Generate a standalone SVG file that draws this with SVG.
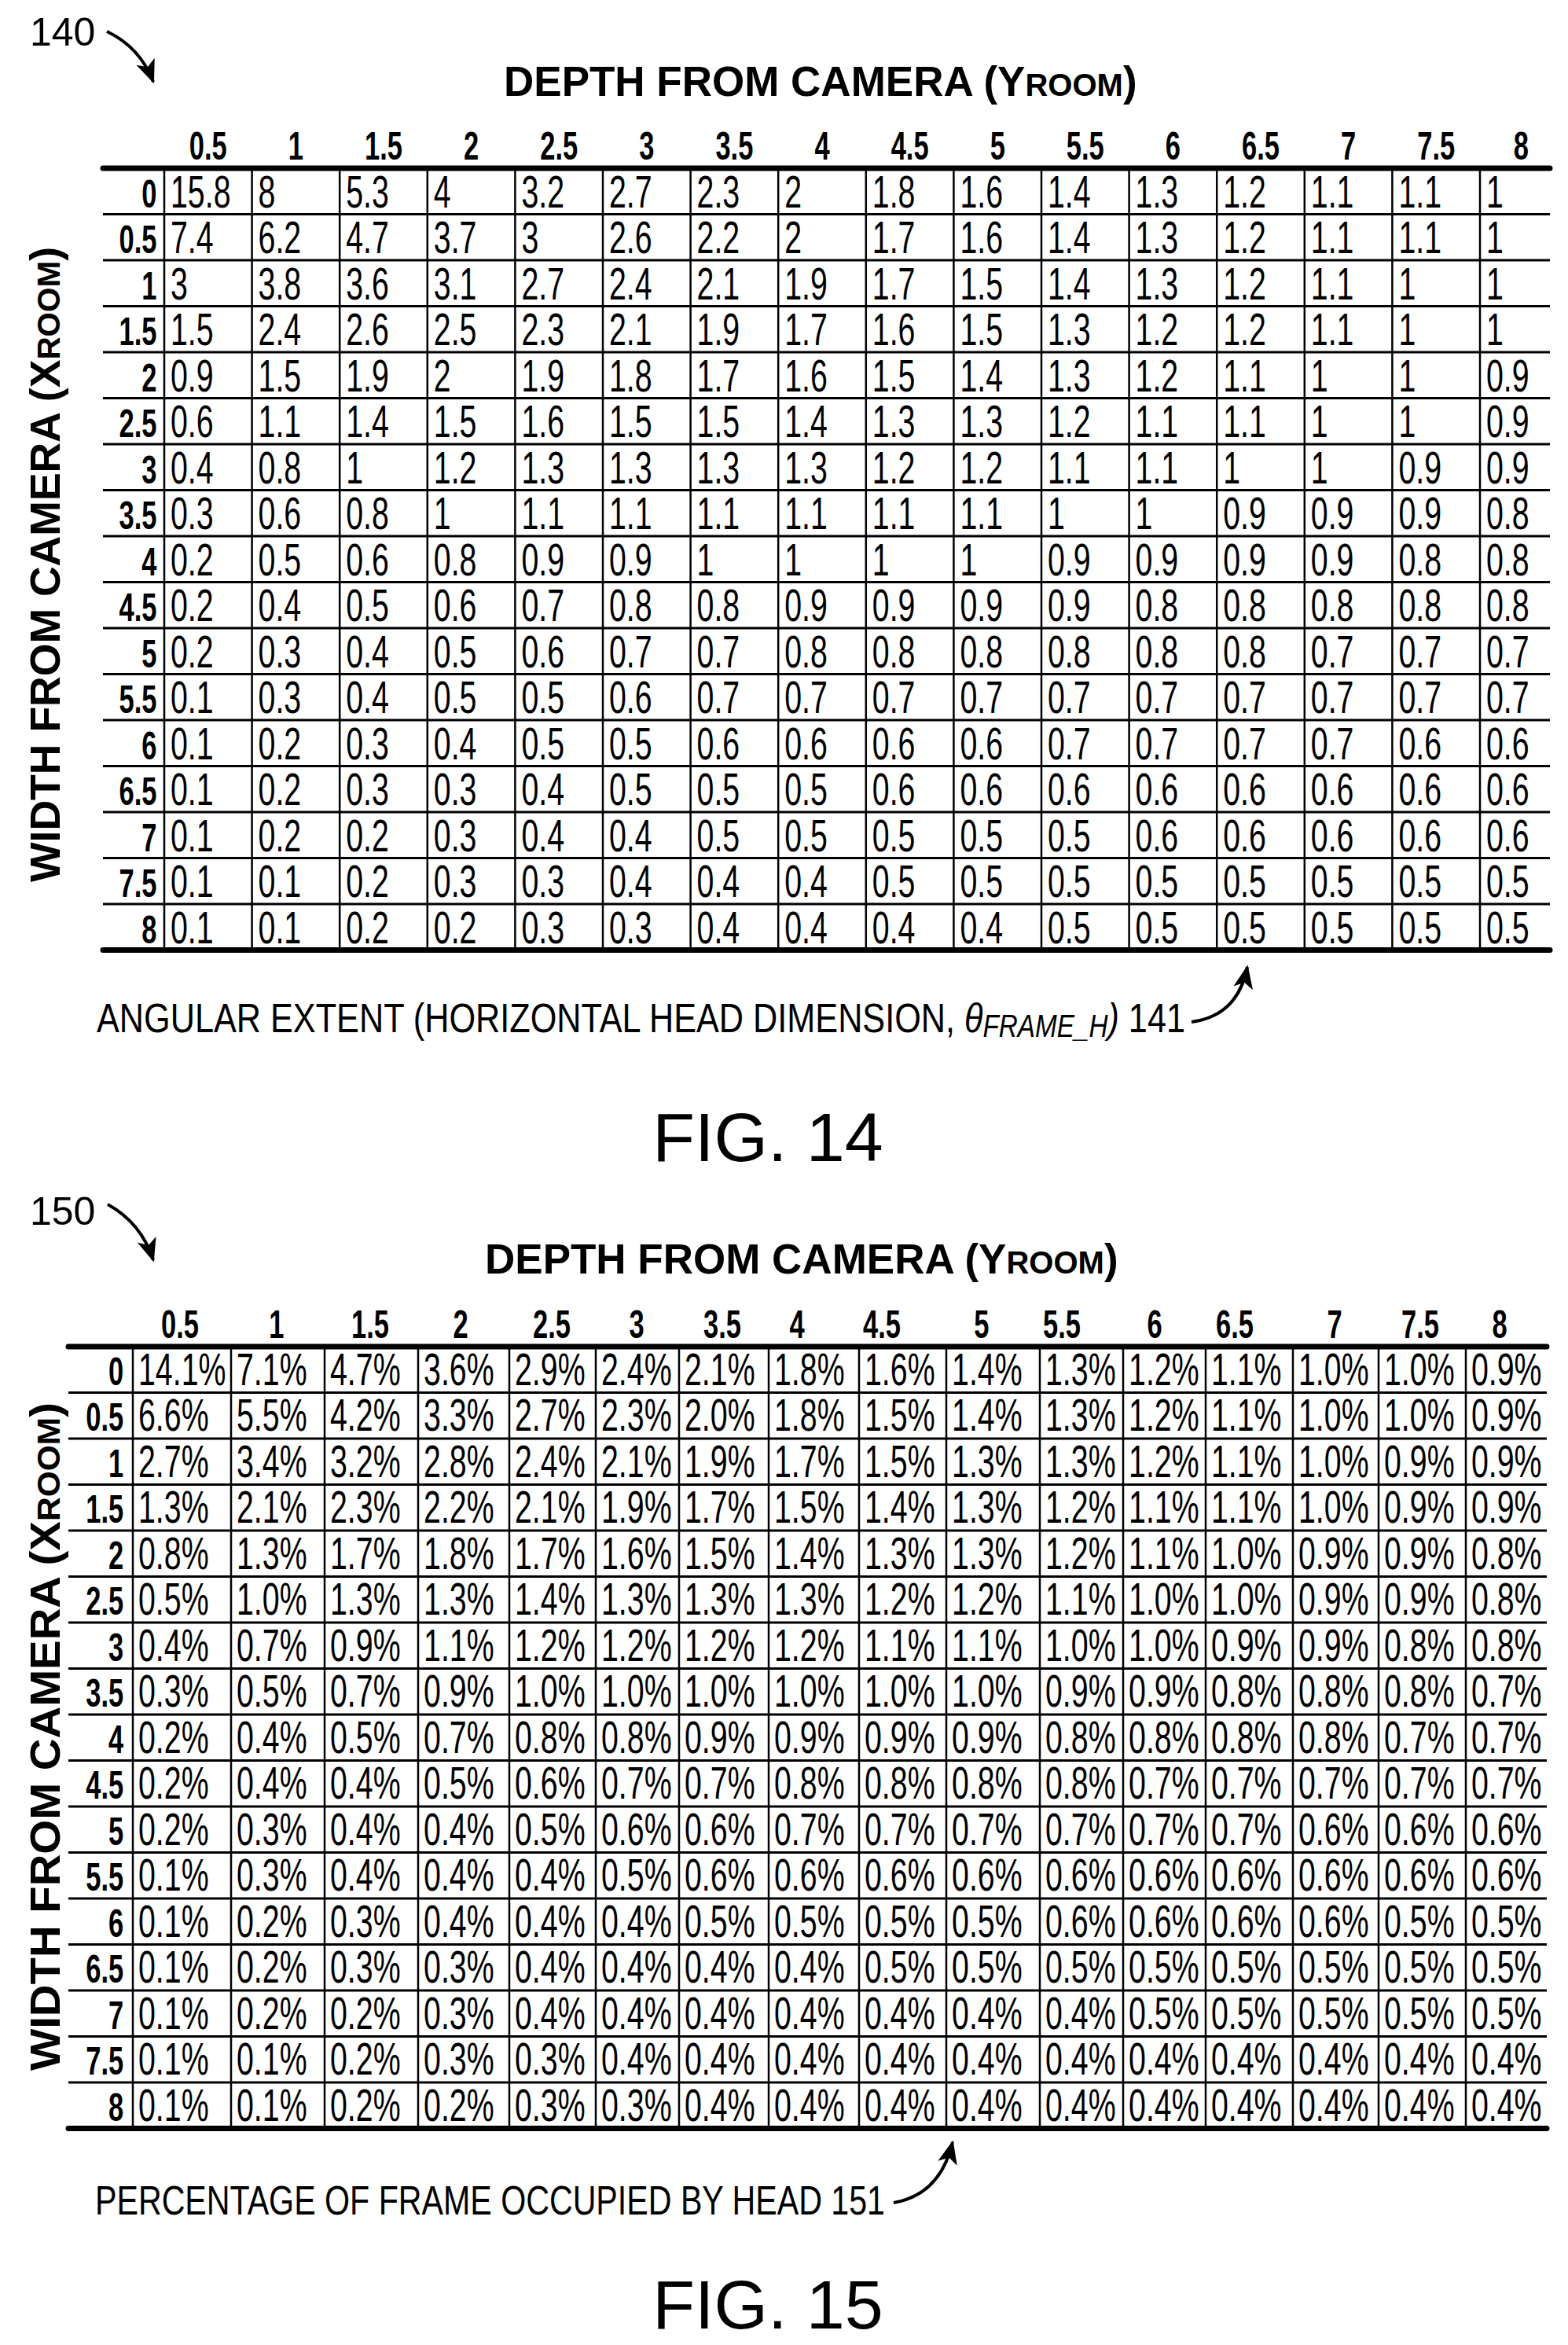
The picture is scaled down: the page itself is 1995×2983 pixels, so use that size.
<svg xmlns="http://www.w3.org/2000/svg" width="1995" height="2983" viewBox="0 0 1995 2983">
<style>
text{font-family:"Liberation Sans",Arial,sans-serif;fill:#000}
.t{font-size:53px;font-weight:bold}
.ts{font-size:40px}
.hd{font-size:50px;font-weight:bold;text-anchor:middle}
.rl{font-size:50px;font-weight:bold;text-anchor:end}
.c{font-size:57px}
.thin{stroke:#000;stroke-width:3;fill:none}
.vl{stroke:#000;stroke-width:2.5;fill:none}
.thick{stroke:#000;stroke-width:7;fill:none;stroke-linecap:round}
.cap{font-size:52px}
.fig{font-size:88px;text-anchor:middle}
.ref{font-size:50px}
.arr{stroke:#000;stroke-width:4;fill:none}
</style>
<defs>
<marker id="ah" markerUnits="userSpaceOnUse" markerWidth="30" markerHeight="30" refX="22" refY="10" orient="auto" viewBox="0 0 24 20">
<path d="M0,0 L24,10 L0,20 L6,10 Z" fill="#000"/>
</marker>
</defs>

<g id="fig14">
<text class="ref" x="38" y="58">140</text>
<text class="t" x="641" y="122">DEPTH FROM CAMERA (Y<tspan class="ts">ROOM</tspan>)</text>
<text class="t" transform="translate(76,718) rotate(-90)" text-anchor="middle" textLength="808" lengthAdjust="spacingAndGlyphs">WIDTH FROM CAMERA (X<tspan class="ts">ROOM</tspan>)</text>
<path class="thin" d="M131 272.5H1972M131 331H1972M131 389.5H1972M131 448H1972M131 506.5H1972M131 565H1972M131 623.5H1972M131 682H1972M131 740.5H1972M131 799H1972M131 857.5H1972M131 916H1972M131 974.5H1972M131 1033H1972M131 1091.5H1972M131 1150H1972"/>
<path class="vl" d="M209 214V1208.5M320.6 214V1208.5M432.2 214V1208.5M543.8 214V1208.5M655.4 214V1208.5M767 214V1208.5M878.6 214V1208.5M990.2 214V1208.5M1101.8 214V1208.5M1213.4 214V1208.5M1325 214V1208.5M1436.6 214V1208.5M1548.2 214V1208.5M1659.8 214V1208.5M1771.4 214V1208.5M1883 214V1208.5"/>
<path class="thick" d="M131 214H1972M131 1208.5H1972"/>
<g transform="scale(0.69,1)">
<text class="hd" y="203"><tspan x="383.8">0.5</tspan><tspan x="545.5">1</tspan><tspan x="707.3">1.5</tspan><tspan x="869">2</tspan><tspan x="1030.8">2.5</tspan><tspan x="1192.5">3</tspan><tspan x="1354.2">3.5</tspan><tspan x="1516">4</tspan><tspan x="1677.7">4.5</tspan><tspan x="1839.5">5</tspan><tspan x="2001.2">5.5</tspan><tspan x="2162.9">6</tspan><tspan x="2324.7">6.5</tspan><tspan x="2486.4">7</tspan><tspan x="2648.2">7.5</tspan><tspan x="2805">8</tspan></text>
<text class="rl" x="289" y="264">0</text>
<text class="rl" x="289" y="322.5">0.5</text>
<text class="rl" x="289" y="381">1</text>
<text class="rl" x="289" y="439.5">1.5</text>
<text class="rl" x="289" y="498">2</text>
<text class="rl" x="289" y="556.5">2.5</text>
<text class="rl" x="289" y="615">3</text>
<text class="rl" x="289" y="673.5">3.5</text>
<text class="rl" x="289" y="732">4</text>
<text class="rl" x="289" y="790.5">4.5</text>
<text class="rl" x="289" y="849">5</text>
<text class="rl" x="289" y="907.5">5.5</text>
<text class="rl" x="289" y="966">6</text>
<text class="rl" x="289" y="1024.5">6.5</text>
<text class="rl" x="289" y="1083">7</text>
<text class="rl" x="289" y="1141.5">7.5</text>
<text class="rl" x="289" y="1200">8</text>
<text class="c" y="264"><tspan x="314.5">15.8</tspan><tspan x="476.2">8</tspan><tspan x="638">5.3</tspan><tspan x="799.7">4</tspan><tspan x="961.5">3.2</tspan><tspan x="1123.2">2.7</tspan><tspan x="1284.9">2.3</tspan><tspan x="1446.7">2</tspan><tspan x="1608.4">1.8</tspan><tspan x="1770.2">1.6</tspan><tspan x="1931.9">1.4</tspan><tspan x="2093.6">1.3</tspan><tspan x="2255.4">1.2</tspan><tspan x="2417.1">1.1</tspan><tspan x="2578.9">1.1</tspan><tspan x="2740.6">1</tspan></text>
<text class="c" y="322.5"><tspan x="314.5">7.4</tspan><tspan x="476.2">6.2</tspan><tspan x="638">4.7</tspan><tspan x="799.7">3.7</tspan><tspan x="961.5">3</tspan><tspan x="1123.2">2.6</tspan><tspan x="1284.9">2.2</tspan><tspan x="1446.7">2</tspan><tspan x="1608.4">1.7</tspan><tspan x="1770.2">1.6</tspan><tspan x="1931.9">1.4</tspan><tspan x="2093.6">1.3</tspan><tspan x="2255.4">1.2</tspan><tspan x="2417.1">1.1</tspan><tspan x="2578.9">1.1</tspan><tspan x="2740.6">1</tspan></text>
<text class="c" y="381"><tspan x="314.5">3</tspan><tspan x="476.2">3.8</tspan><tspan x="638">3.6</tspan><tspan x="799.7">3.1</tspan><tspan x="961.5">2.7</tspan><tspan x="1123.2">2.4</tspan><tspan x="1284.9">2.1</tspan><tspan x="1446.7">1.9</tspan><tspan x="1608.4">1.7</tspan><tspan x="1770.2">1.5</tspan><tspan x="1931.9">1.4</tspan><tspan x="2093.6">1.3</tspan><tspan x="2255.4">1.2</tspan><tspan x="2417.1">1.1</tspan><tspan x="2578.9">1</tspan><tspan x="2740.6">1</tspan></text>
<text class="c" y="439.5"><tspan x="314.5">1.5</tspan><tspan x="476.2">2.4</tspan><tspan x="638">2.6</tspan><tspan x="799.7">2.5</tspan><tspan x="961.5">2.3</tspan><tspan x="1123.2">2.1</tspan><tspan x="1284.9">1.9</tspan><tspan x="1446.7">1.7</tspan><tspan x="1608.4">1.6</tspan><tspan x="1770.2">1.5</tspan><tspan x="1931.9">1.3</tspan><tspan x="2093.6">1.2</tspan><tspan x="2255.4">1.2</tspan><tspan x="2417.1">1.1</tspan><tspan x="2578.9">1</tspan><tspan x="2740.6">1</tspan></text>
<text class="c" y="498"><tspan x="314.5">0.9</tspan><tspan x="476.2">1.5</tspan><tspan x="638">1.9</tspan><tspan x="799.7">2</tspan><tspan x="961.5">1.9</tspan><tspan x="1123.2">1.8</tspan><tspan x="1284.9">1.7</tspan><tspan x="1446.7">1.6</tspan><tspan x="1608.4">1.5</tspan><tspan x="1770.2">1.4</tspan><tspan x="1931.9">1.3</tspan><tspan x="2093.6">1.2</tspan><tspan x="2255.4">1.1</tspan><tspan x="2417.1">1</tspan><tspan x="2578.9">1</tspan><tspan x="2740.6">0.9</tspan></text>
<text class="c" y="556.5"><tspan x="314.5">0.6</tspan><tspan x="476.2">1.1</tspan><tspan x="638">1.4</tspan><tspan x="799.7">1.5</tspan><tspan x="961.5">1.6</tspan><tspan x="1123.2">1.5</tspan><tspan x="1284.9">1.5</tspan><tspan x="1446.7">1.4</tspan><tspan x="1608.4">1.3</tspan><tspan x="1770.2">1.3</tspan><tspan x="1931.9">1.2</tspan><tspan x="2093.6">1.1</tspan><tspan x="2255.4">1.1</tspan><tspan x="2417.1">1</tspan><tspan x="2578.9">1</tspan><tspan x="2740.6">0.9</tspan></text>
<text class="c" y="615"><tspan x="314.5">0.4</tspan><tspan x="476.2">0.8</tspan><tspan x="638">1</tspan><tspan x="799.7">1.2</tspan><tspan x="961.5">1.3</tspan><tspan x="1123.2">1.3</tspan><tspan x="1284.9">1.3</tspan><tspan x="1446.7">1.3</tspan><tspan x="1608.4">1.2</tspan><tspan x="1770.2">1.2</tspan><tspan x="1931.9">1.1</tspan><tspan x="2093.6">1.1</tspan><tspan x="2255.4">1</tspan><tspan x="2417.1">1</tspan><tspan x="2578.9">0.9</tspan><tspan x="2740.6">0.9</tspan></text>
<text class="c" y="673.5"><tspan x="314.5">0.3</tspan><tspan x="476.2">0.6</tspan><tspan x="638">0.8</tspan><tspan x="799.7">1</tspan><tspan x="961.5">1.1</tspan><tspan x="1123.2">1.1</tspan><tspan x="1284.9">1.1</tspan><tspan x="1446.7">1.1</tspan><tspan x="1608.4">1.1</tspan><tspan x="1770.2">1.1</tspan><tspan x="1931.9">1</tspan><tspan x="2093.6">1</tspan><tspan x="2255.4">0.9</tspan><tspan x="2417.1">0.9</tspan><tspan x="2578.9">0.9</tspan><tspan x="2740.6">0.8</tspan></text>
<text class="c" y="732"><tspan x="314.5">0.2</tspan><tspan x="476.2">0.5</tspan><tspan x="638">0.6</tspan><tspan x="799.7">0.8</tspan><tspan x="961.5">0.9</tspan><tspan x="1123.2">0.9</tspan><tspan x="1284.9">1</tspan><tspan x="1446.7">1</tspan><tspan x="1608.4">1</tspan><tspan x="1770.2">1</tspan><tspan x="1931.9">0.9</tspan><tspan x="2093.6">0.9</tspan><tspan x="2255.4">0.9</tspan><tspan x="2417.1">0.9</tspan><tspan x="2578.9">0.8</tspan><tspan x="2740.6">0.8</tspan></text>
<text class="c" y="790.5"><tspan x="314.5">0.2</tspan><tspan x="476.2">0.4</tspan><tspan x="638">0.5</tspan><tspan x="799.7">0.6</tspan><tspan x="961.5">0.7</tspan><tspan x="1123.2">0.8</tspan><tspan x="1284.9">0.8</tspan><tspan x="1446.7">0.9</tspan><tspan x="1608.4">0.9</tspan><tspan x="1770.2">0.9</tspan><tspan x="1931.9">0.9</tspan><tspan x="2093.6">0.8</tspan><tspan x="2255.4">0.8</tspan><tspan x="2417.1">0.8</tspan><tspan x="2578.9">0.8</tspan><tspan x="2740.6">0.8</tspan></text>
<text class="c" y="849"><tspan x="314.5">0.2</tspan><tspan x="476.2">0.3</tspan><tspan x="638">0.4</tspan><tspan x="799.7">0.5</tspan><tspan x="961.5">0.6</tspan><tspan x="1123.2">0.7</tspan><tspan x="1284.9">0.7</tspan><tspan x="1446.7">0.8</tspan><tspan x="1608.4">0.8</tspan><tspan x="1770.2">0.8</tspan><tspan x="1931.9">0.8</tspan><tspan x="2093.6">0.8</tspan><tspan x="2255.4">0.8</tspan><tspan x="2417.1">0.7</tspan><tspan x="2578.9">0.7</tspan><tspan x="2740.6">0.7</tspan></text>
<text class="c" y="907.5"><tspan x="314.5">0.1</tspan><tspan x="476.2">0.3</tspan><tspan x="638">0.4</tspan><tspan x="799.7">0.5</tspan><tspan x="961.5">0.5</tspan><tspan x="1123.2">0.6</tspan><tspan x="1284.9">0.7</tspan><tspan x="1446.7">0.7</tspan><tspan x="1608.4">0.7</tspan><tspan x="1770.2">0.7</tspan><tspan x="1931.9">0.7</tspan><tspan x="2093.6">0.7</tspan><tspan x="2255.4">0.7</tspan><tspan x="2417.1">0.7</tspan><tspan x="2578.9">0.7</tspan><tspan x="2740.6">0.7</tspan></text>
<text class="c" y="966"><tspan x="314.5">0.1</tspan><tspan x="476.2">0.2</tspan><tspan x="638">0.3</tspan><tspan x="799.7">0.4</tspan><tspan x="961.5">0.5</tspan><tspan x="1123.2">0.5</tspan><tspan x="1284.9">0.6</tspan><tspan x="1446.7">0.6</tspan><tspan x="1608.4">0.6</tspan><tspan x="1770.2">0.6</tspan><tspan x="1931.9">0.7</tspan><tspan x="2093.6">0.7</tspan><tspan x="2255.4">0.7</tspan><tspan x="2417.1">0.7</tspan><tspan x="2578.9">0.6</tspan><tspan x="2740.6">0.6</tspan></text>
<text class="c" y="1024.5"><tspan x="314.5">0.1</tspan><tspan x="476.2">0.2</tspan><tspan x="638">0.3</tspan><tspan x="799.7">0.3</tspan><tspan x="961.5">0.4</tspan><tspan x="1123.2">0.5</tspan><tspan x="1284.9">0.5</tspan><tspan x="1446.7">0.5</tspan><tspan x="1608.4">0.6</tspan><tspan x="1770.2">0.6</tspan><tspan x="1931.9">0.6</tspan><tspan x="2093.6">0.6</tspan><tspan x="2255.4">0.6</tspan><tspan x="2417.1">0.6</tspan><tspan x="2578.9">0.6</tspan><tspan x="2740.6">0.6</tspan></text>
<text class="c" y="1083"><tspan x="314.5">0.1</tspan><tspan x="476.2">0.2</tspan><tspan x="638">0.2</tspan><tspan x="799.7">0.3</tspan><tspan x="961.5">0.4</tspan><tspan x="1123.2">0.4</tspan><tspan x="1284.9">0.5</tspan><tspan x="1446.7">0.5</tspan><tspan x="1608.4">0.5</tspan><tspan x="1770.2">0.5</tspan><tspan x="1931.9">0.5</tspan><tspan x="2093.6">0.6</tspan><tspan x="2255.4">0.6</tspan><tspan x="2417.1">0.6</tspan><tspan x="2578.9">0.6</tspan><tspan x="2740.6">0.6</tspan></text>
<text class="c" y="1141.5"><tspan x="314.5">0.1</tspan><tspan x="476.2">0.1</tspan><tspan x="638">0.2</tspan><tspan x="799.7">0.3</tspan><tspan x="961.5">0.3</tspan><tspan x="1123.2">0.4</tspan><tspan x="1284.9">0.4</tspan><tspan x="1446.7">0.4</tspan><tspan x="1608.4">0.5</tspan><tspan x="1770.2">0.5</tspan><tspan x="1931.9">0.5</tspan><tspan x="2093.6">0.5</tspan><tspan x="2255.4">0.5</tspan><tspan x="2417.1">0.5</tspan><tspan x="2578.9">0.5</tspan><tspan x="2740.6">0.5</tspan></text>
<text class="c" y="1200"><tspan x="314.5">0.1</tspan><tspan x="476.2">0.1</tspan><tspan x="638">0.2</tspan><tspan x="799.7">0.2</tspan><tspan x="961.5">0.3</tspan><tspan x="1123.2">0.3</tspan><tspan x="1284.9">0.4</tspan><tspan x="1446.7">0.4</tspan><tspan x="1608.4">0.4</tspan><tspan x="1770.2">0.4</tspan><tspan x="1931.9">0.5</tspan><tspan x="2093.6">0.5</tspan><tspan x="2255.4">0.5</tspan><tspan x="2417.1">0.5</tspan><tspan x="2578.9">0.5</tspan><tspan x="2740.6">0.5</tspan></text>
</g>
<text class="cap" x="123" y="1313" textLength="1385" lengthAdjust="spacingAndGlyphs">ANGULAR EXTENT (HORIZONTAL HEAD DIMENSION, <tspan font-style="italic">θ</tspan><tspan font-style="italic" font-size="40" dy="6">FRAME_H</tspan><tspan font-style="italic" dy="-6">)</tspan> 141</text>
<text class="fig" x="977" y="1477">FIG. 14</text>
</g>

<g id="fig15">
<text class="ref" x="38" y="1558">150</text>
<text class="t" x="617" y="1620">DEPTH FROM CAMERA (Y<tspan class="ts">ROOM</tspan>)</text>
<text class="t" transform="translate(76,2209) rotate(-90)" text-anchor="middle" textLength="850" lengthAdjust="spacingAndGlyphs">WIDTH FROM CAMERA (X<tspan class="ts">ROOM</tspan>)</text>
<path class="thin" d="M87 1771.5H1968M87 1830H1968M87 1888.5H1968M87 1947H1968M87 2005.5H1968M87 2064H1968M87 2122.5H1968M87 2181H1968M87 2239.5H1968M87 2298H1968M87 2356.5H1968M87 2415H1968M87 2473.5H1968M87 2532H1968M87 2590.5H1968M87 2649H1968"/>
<path class="vl" d="M169 1713V2707.5M294 1713V2707.5M413 1713V2707.5M532 1713V2707.5M648 1713V2707.5M758 1713V2707.5M864 1713V2707.5M978 1713V2707.5M1093 1713V2707.5M1204 1713V2707.5M1323 1713V2707.5M1429 1713V2707.5M1534 1713V2707.5M1645 1713V2707.5M1754 1713V2707.5M1865 1713V2707.5"/>
<path class="thick" d="M87 1713H1968M87 2707.5H1968"/>
<g transform="scale(0.69,1)">
<text class="hd" y="1702"><tspan x="331.9">0.5</tspan><tspan x="510.1">1</tspan><tspan x="682.6">1.5</tspan><tspan x="849.3">2</tspan><tspan x="1017.4">2.5</tspan><tspan x="1173.9">3</tspan><tspan x="1331.9">3.5</tspan><tspan x="1469.6">4</tspan><tspan x="1626.1">4.5</tspan><tspan x="1810.1">5</tspan><tspan x="1958">5.5</tspan><tspan x="2129">6</tspan><tspan x="2276.8">6.5</tspan><tspan x="2460.9">7</tspan><tspan x="2618.8">7.5</tspan><tspan x="2765.2">8</tspan></text>
<text class="rl" x="228" y="1762">0</text>
<text class="rl" x="228" y="1820.5">0.5</text>
<text class="rl" x="228" y="1879">1</text>
<text class="rl" x="228" y="1937.5">1.5</text>
<text class="rl" x="228" y="1996">2</text>
<text class="rl" x="228" y="2054.5">2.5</text>
<text class="rl" x="228" y="2113">3</text>
<text class="rl" x="228" y="2171.5">3.5</text>
<text class="rl" x="228" y="2230">4</text>
<text class="rl" x="228" y="2288.5">4.5</text>
<text class="rl" x="228" y="2347">5</text>
<text class="rl" x="228" y="2405.5">5.5</text>
<text class="rl" x="228" y="2464">6</text>
<text class="rl" x="228" y="2522.5">6.5</text>
<text class="rl" x="228" y="2581">7</text>
<text class="rl" x="228" y="2639.5">7.5</text>
<text class="rl" x="228" y="2698">8</text>
<text class="c" y="1762"><tspan x="255.1">14.1%</tspan><tspan x="436.2">7.1%</tspan><tspan x="608.7">4.7%</tspan><tspan x="781.2">3.6%</tspan><tspan x="949.3">2.9%</tspan><tspan x="1108.7">2.4%</tspan><tspan x="1262.3">2.1%</tspan><tspan x="1427.5">1.8%</tspan><tspan x="1594.2">1.6%</tspan><tspan x="1755.1">1.4%</tspan><tspan x="1927.5">1.3%</tspan><tspan x="2081.2">1.2%</tspan><tspan x="2233.3">1.1%</tspan><tspan x="2394.2">1.0%</tspan><tspan x="2552.2">1.0%</tspan><tspan x="2713">0.9%</tspan></text>
<text class="c" y="1820.5"><tspan x="255.1">6.6%</tspan><tspan x="436.2">5.5%</tspan><tspan x="608.7">4.2%</tspan><tspan x="781.2">3.3%</tspan><tspan x="949.3">2.7%</tspan><tspan x="1108.7">2.3%</tspan><tspan x="1262.3">2.0%</tspan><tspan x="1427.5">1.8%</tspan><tspan x="1594.2">1.5%</tspan><tspan x="1755.1">1.4%</tspan><tspan x="1927.5">1.3%</tspan><tspan x="2081.2">1.2%</tspan><tspan x="2233.3">1.1%</tspan><tspan x="2394.2">1.0%</tspan><tspan x="2552.2">1.0%</tspan><tspan x="2713">0.9%</tspan></text>
<text class="c" y="1879"><tspan x="255.1">2.7%</tspan><tspan x="436.2">3.4%</tspan><tspan x="608.7">3.2%</tspan><tspan x="781.2">2.8%</tspan><tspan x="949.3">2.4%</tspan><tspan x="1108.7">2.1%</tspan><tspan x="1262.3">1.9%</tspan><tspan x="1427.5">1.7%</tspan><tspan x="1594.2">1.5%</tspan><tspan x="1755.1">1.3%</tspan><tspan x="1927.5">1.3%</tspan><tspan x="2081.2">1.2%</tspan><tspan x="2233.3">1.1%</tspan><tspan x="2394.2">1.0%</tspan><tspan x="2552.2">0.9%</tspan><tspan x="2713">0.9%</tspan></text>
<text class="c" y="1937.5"><tspan x="255.1">1.3%</tspan><tspan x="436.2">2.1%</tspan><tspan x="608.7">2.3%</tspan><tspan x="781.2">2.2%</tspan><tspan x="949.3">2.1%</tspan><tspan x="1108.7">1.9%</tspan><tspan x="1262.3">1.7%</tspan><tspan x="1427.5">1.5%</tspan><tspan x="1594.2">1.4%</tspan><tspan x="1755.1">1.3%</tspan><tspan x="1927.5">1.2%</tspan><tspan x="2081.2">1.1%</tspan><tspan x="2233.3">1.1%</tspan><tspan x="2394.2">1.0%</tspan><tspan x="2552.2">0.9%</tspan><tspan x="2713">0.9%</tspan></text>
<text class="c" y="1996"><tspan x="255.1">0.8%</tspan><tspan x="436.2">1.3%</tspan><tspan x="608.7">1.7%</tspan><tspan x="781.2">1.8%</tspan><tspan x="949.3">1.7%</tspan><tspan x="1108.7">1.6%</tspan><tspan x="1262.3">1.5%</tspan><tspan x="1427.5">1.4%</tspan><tspan x="1594.2">1.3%</tspan><tspan x="1755.1">1.3%</tspan><tspan x="1927.5">1.2%</tspan><tspan x="2081.2">1.1%</tspan><tspan x="2233.3">1.0%</tspan><tspan x="2394.2">0.9%</tspan><tspan x="2552.2">0.9%</tspan><tspan x="2713">0.8%</tspan></text>
<text class="c" y="2054.5"><tspan x="255.1">0.5%</tspan><tspan x="436.2">1.0%</tspan><tspan x="608.7">1.3%</tspan><tspan x="781.2">1.3%</tspan><tspan x="949.3">1.4%</tspan><tspan x="1108.7">1.3%</tspan><tspan x="1262.3">1.3%</tspan><tspan x="1427.5">1.3%</tspan><tspan x="1594.2">1.2%</tspan><tspan x="1755.1">1.2%</tspan><tspan x="1927.5">1.1%</tspan><tspan x="2081.2">1.0%</tspan><tspan x="2233.3">1.0%</tspan><tspan x="2394.2">0.9%</tspan><tspan x="2552.2">0.9%</tspan><tspan x="2713">0.8%</tspan></text>
<text class="c" y="2113"><tspan x="255.1">0.4%</tspan><tspan x="436.2">0.7%</tspan><tspan x="608.7">0.9%</tspan><tspan x="781.2">1.1%</tspan><tspan x="949.3">1.2%</tspan><tspan x="1108.7">1.2%</tspan><tspan x="1262.3">1.2%</tspan><tspan x="1427.5">1.2%</tspan><tspan x="1594.2">1.1%</tspan><tspan x="1755.1">1.1%</tspan><tspan x="1927.5">1.0%</tspan><tspan x="2081.2">1.0%</tspan><tspan x="2233.3">0.9%</tspan><tspan x="2394.2">0.9%</tspan><tspan x="2552.2">0.8%</tspan><tspan x="2713">0.8%</tspan></text>
<text class="c" y="2171.5"><tspan x="255.1">0.3%</tspan><tspan x="436.2">0.5%</tspan><tspan x="608.7">0.7%</tspan><tspan x="781.2">0.9%</tspan><tspan x="949.3">1.0%</tspan><tspan x="1108.7">1.0%</tspan><tspan x="1262.3">1.0%</tspan><tspan x="1427.5">1.0%</tspan><tspan x="1594.2">1.0%</tspan><tspan x="1755.1">1.0%</tspan><tspan x="1927.5">0.9%</tspan><tspan x="2081.2">0.9%</tspan><tspan x="2233.3">0.8%</tspan><tspan x="2394.2">0.8%</tspan><tspan x="2552.2">0.8%</tspan><tspan x="2713">0.7%</tspan></text>
<text class="c" y="2230"><tspan x="255.1">0.2%</tspan><tspan x="436.2">0.4%</tspan><tspan x="608.7">0.5%</tspan><tspan x="781.2">0.7%</tspan><tspan x="949.3">0.8%</tspan><tspan x="1108.7">0.8%</tspan><tspan x="1262.3">0.9%</tspan><tspan x="1427.5">0.9%</tspan><tspan x="1594.2">0.9%</tspan><tspan x="1755.1">0.9%</tspan><tspan x="1927.5">0.8%</tspan><tspan x="2081.2">0.8%</tspan><tspan x="2233.3">0.8%</tspan><tspan x="2394.2">0.8%</tspan><tspan x="2552.2">0.7%</tspan><tspan x="2713">0.7%</tspan></text>
<text class="c" y="2288.5"><tspan x="255.1">0.2%</tspan><tspan x="436.2">0.4%</tspan><tspan x="608.7">0.4%</tspan><tspan x="781.2">0.5%</tspan><tspan x="949.3">0.6%</tspan><tspan x="1108.7">0.7%</tspan><tspan x="1262.3">0.7%</tspan><tspan x="1427.5">0.8%</tspan><tspan x="1594.2">0.8%</tspan><tspan x="1755.1">0.8%</tspan><tspan x="1927.5">0.8%</tspan><tspan x="2081.2">0.7%</tspan><tspan x="2233.3">0.7%</tspan><tspan x="2394.2">0.7%</tspan><tspan x="2552.2">0.7%</tspan><tspan x="2713">0.7%</tspan></text>
<text class="c" y="2347"><tspan x="255.1">0.2%</tspan><tspan x="436.2">0.3%</tspan><tspan x="608.7">0.4%</tspan><tspan x="781.2">0.4%</tspan><tspan x="949.3">0.5%</tspan><tspan x="1108.7">0.6%</tspan><tspan x="1262.3">0.6%</tspan><tspan x="1427.5">0.7%</tspan><tspan x="1594.2">0.7%</tspan><tspan x="1755.1">0.7%</tspan><tspan x="1927.5">0.7%</tspan><tspan x="2081.2">0.7%</tspan><tspan x="2233.3">0.7%</tspan><tspan x="2394.2">0.6%</tspan><tspan x="2552.2">0.6%</tspan><tspan x="2713">0.6%</tspan></text>
<text class="c" y="2405.5"><tspan x="255.1">0.1%</tspan><tspan x="436.2">0.3%</tspan><tspan x="608.7">0.4%</tspan><tspan x="781.2">0.4%</tspan><tspan x="949.3">0.4%</tspan><tspan x="1108.7">0.5%</tspan><tspan x="1262.3">0.6%</tspan><tspan x="1427.5">0.6%</tspan><tspan x="1594.2">0.6%</tspan><tspan x="1755.1">0.6%</tspan><tspan x="1927.5">0.6%</tspan><tspan x="2081.2">0.6%</tspan><tspan x="2233.3">0.6%</tspan><tspan x="2394.2">0.6%</tspan><tspan x="2552.2">0.6%</tspan><tspan x="2713">0.6%</tspan></text>
<text class="c" y="2464"><tspan x="255.1">0.1%</tspan><tspan x="436.2">0.2%</tspan><tspan x="608.7">0.3%</tspan><tspan x="781.2">0.4%</tspan><tspan x="949.3">0.4%</tspan><tspan x="1108.7">0.4%</tspan><tspan x="1262.3">0.5%</tspan><tspan x="1427.5">0.5%</tspan><tspan x="1594.2">0.5%</tspan><tspan x="1755.1">0.5%</tspan><tspan x="1927.5">0.6%</tspan><tspan x="2081.2">0.6%</tspan><tspan x="2233.3">0.6%</tspan><tspan x="2394.2">0.6%</tspan><tspan x="2552.2">0.5%</tspan><tspan x="2713">0.5%</tspan></text>
<text class="c" y="2522.5"><tspan x="255.1">0.1%</tspan><tspan x="436.2">0.2%</tspan><tspan x="608.7">0.3%</tspan><tspan x="781.2">0.3%</tspan><tspan x="949.3">0.4%</tspan><tspan x="1108.7">0.4%</tspan><tspan x="1262.3">0.4%</tspan><tspan x="1427.5">0.4%</tspan><tspan x="1594.2">0.5%</tspan><tspan x="1755.1">0.5%</tspan><tspan x="1927.5">0.5%</tspan><tspan x="2081.2">0.5%</tspan><tspan x="2233.3">0.5%</tspan><tspan x="2394.2">0.5%</tspan><tspan x="2552.2">0.5%</tspan><tspan x="2713">0.5%</tspan></text>
<text class="c" y="2581"><tspan x="255.1">0.1%</tspan><tspan x="436.2">0.2%</tspan><tspan x="608.7">0.2%</tspan><tspan x="781.2">0.3%</tspan><tspan x="949.3">0.4%</tspan><tspan x="1108.7">0.4%</tspan><tspan x="1262.3">0.4%</tspan><tspan x="1427.5">0.4%</tspan><tspan x="1594.2">0.4%</tspan><tspan x="1755.1">0.4%</tspan><tspan x="1927.5">0.4%</tspan><tspan x="2081.2">0.5%</tspan><tspan x="2233.3">0.5%</tspan><tspan x="2394.2">0.5%</tspan><tspan x="2552.2">0.5%</tspan><tspan x="2713">0.5%</tspan></text>
<text class="c" y="2639.5"><tspan x="255.1">0.1%</tspan><tspan x="436.2">0.1%</tspan><tspan x="608.7">0.2%</tspan><tspan x="781.2">0.3%</tspan><tspan x="949.3">0.3%</tspan><tspan x="1108.7">0.4%</tspan><tspan x="1262.3">0.4%</tspan><tspan x="1427.5">0.4%</tspan><tspan x="1594.2">0.4%</tspan><tspan x="1755.1">0.4%</tspan><tspan x="1927.5">0.4%</tspan><tspan x="2081.2">0.4%</tspan><tspan x="2233.3">0.4%</tspan><tspan x="2394.2">0.4%</tspan><tspan x="2552.2">0.4%</tspan><tspan x="2713">0.4%</tspan></text>
<text class="c" y="2698"><tspan x="255.1">0.1%</tspan><tspan x="436.2">0.1%</tspan><tspan x="608.7">0.2%</tspan><tspan x="781.2">0.2%</tspan><tspan x="949.3">0.3%</tspan><tspan x="1108.7">0.3%</tspan><tspan x="1262.3">0.4%</tspan><tspan x="1427.5">0.4%</tspan><tspan x="1594.2">0.4%</tspan><tspan x="1755.1">0.4%</tspan><tspan x="1927.5">0.4%</tspan><tspan x="2081.2">0.4%</tspan><tspan x="2233.3">0.4%</tspan><tspan x="2394.2">0.4%</tspan><tspan x="2552.2">0.4%</tspan><tspan x="2713">0.4%</tspan></text>
</g>
<text class="cap" x="121" y="2817" textLength="1005" lengthAdjust="spacingAndGlyphs">PERCENTAGE OF FRAME OCCUPIED BY HEAD 151</text>
<text class="fig" x="977" y="2962">FIG. 15</text>
</g>

<g id="connectors">
<path class="arr" d="M136,40 Q178,60 195,104" marker-end="url(#ah)"/>
<path class="arr" d="M1516,1300 Q1575,1292 1587,1230" marker-end="url(#ah)"/>
<path class="arr" d="M137,1532 Q180,1556 195,1603" marker-end="url(#ah)"/>
<path class="arr" d="M1137,2802 Q1196,2792 1212,2725" marker-end="url(#ah)"/>
</g>
</svg>
